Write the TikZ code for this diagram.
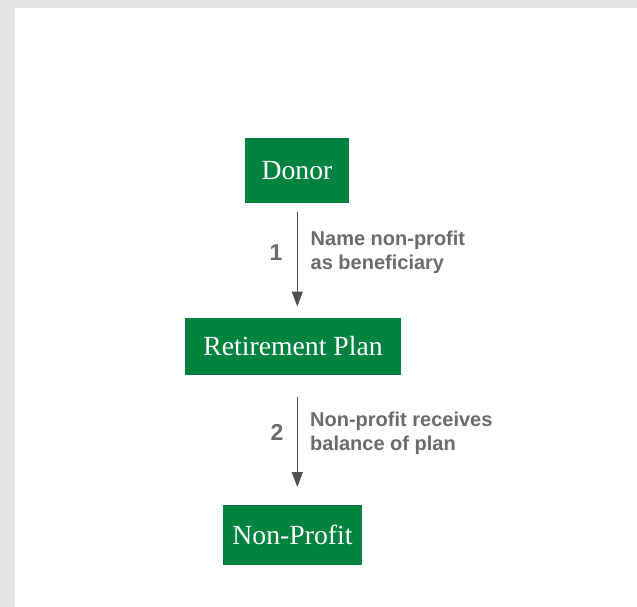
\documentclass[tikz,border=0pt]{standalone}
\usepackage{fontspec}
\setmainfont{Liberation Serif}
\setsansfont{Liberation Sans}
\usetikzlibrary{arrows.meta}
\definecolor{boxgreen}{HTML}{00833E}
\definecolor{labelgray}{HTML}{6B6B6D}
\definecolor{arrowgray}{HTML}{505052}
\definecolor{framegray}{HTML}{E3E4E6}
\tikzset{
  greenbox/.style={fill=boxgreen, text=white, inner sep=0pt, font=\fontsize{27.7}{30}\selectfont},
  steplabel/.style={text=labelgray, anchor=west, align=left, inner sep=0pt, font=\sffamily\bfseries\fontsize{20}{24.5}\selectfont},
  stepnum/.style={text=labelgray, inner sep=0pt, font=\sffamily\bfseries\fontsize{23}{24}\selectfont},
  flowarrow/.style={draw=arrowgray, line width=1.2pt, -{Triangle[length=15pt,width=11pt]}}
}
\begin{document}
\begin{tikzpicture}[x=1pt,y=-1pt]
\fill[framegray] (0,0) rectangle (637,607);
\fill[white] (15,8) rectangle (637,607);
\useasboundingbox (0,0) rectangle (637,607);

\node[greenbox, minimum width=104pt, minimum height=65pt] (donor) at (297,170.5) {Donor};
\node[greenbox, minimum width=216pt, minimum height=57pt] (plan) at (293,346.5) {Retirement Plan};
\node[greenbox, minimum width=139.5pt, minimum height=60pt] (np) at (292.5,535) {Non-Profit};

\coordinate (a1s) at (297.3,212);
\coordinate (a1e) at (297.3,306.5);
\coordinate (a2s) at (297.3,397);
\coordinate (a2e) at (297.3,487);

\draw[flowarrow] (a1s) -- (a1e);
\draw[flowarrow] (a2s) -- (a2e);

\node[stepnum] (n1) at (276,253) {1};
\node[steplabel] (t1) at (310.5,252.5) {Name non-profit\\as beneficiary};
\node[stepnum] (n2) at (277,432) {2};
\node[steplabel] (t2) at (310,433.3) {Non-profit receives\\balance of plan};
\end{tikzpicture}
\end{document}
